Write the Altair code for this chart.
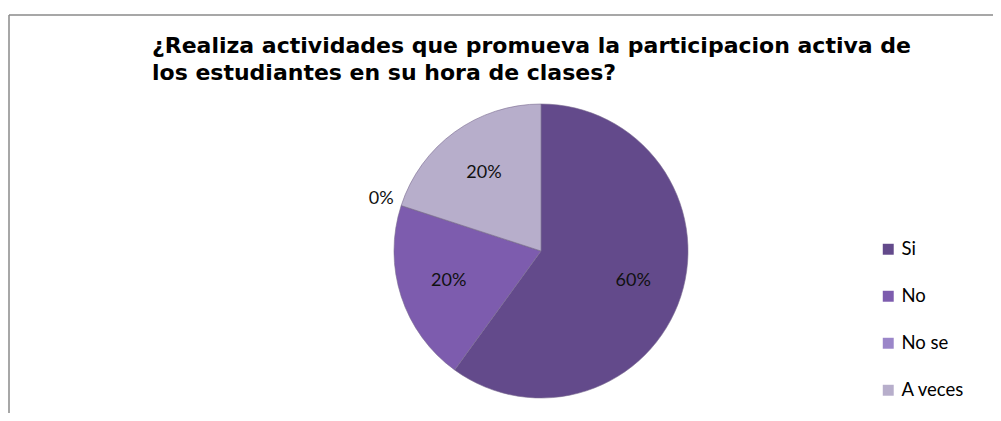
import altair as alt
import pandas as pd

categories = ["Si", "No", "No se", "A veces"]
percents = [60, 20, 0, 20]
labels = ["60%", "20%", "0%", "20%"]
colors = ["#634a8b", "#7d5cae", "#9b86c9", "#b7aecb"]
title_lines = [
    "¿Realiza actividades que promueva la participacion activa de",
    "los estudiantes en su hora de clases?",
]

df = pd.DataFrame({
    "cat": categories,
    "pct": percents,
    "label": labels,
    "ord": list(range(len(categories))),
})

CX, CY, R = 533, 243, 147

base = alt.Chart(df).encode(
    theta=alt.Theta("pct:Q", stack=True),
    order=alt.Order("ord:Q"),
)

arc = base.mark_arc(outerRadius=R, stroke="#7a6c90", strokeWidth=0.6).encode(
    x=alt.value(CX), y=alt.value(CY),
    color=alt.Color("cat:N", sort=categories,
                    scale=alt.Scale(domain=categories, range=colors),
                    legend=alt.Legend(title=None)),
)

txt = base.transform_filter("datum.pct > 0").mark_text(
    radius=97, font="Lato", fontSize=18, color="#111111"
).encode(x=alt.value(CX), y=alt.value(CY), text="label:N")

zero = base.transform_filter("datum.pct > 0 || datum.ord == 2").mark_text(
    font="Lato", fontSize=18, color="#111111"
).encode(x=alt.value(CX), y=alt.value(CY), text="label:N",
         radius=alt.value(168),
         opacity=alt.condition("datum.pct == 0", alt.value(1), alt.value(0)))

TFONT = "DejaVu Sans"
TSIZE = 22
tdf1 = pd.DataFrame({"t": [title_lines[0]]})
tdf2 = pd.DataFrame({"t": [title_lines[1]]})
t1 = alt.Chart(tdf1).mark_text(align="left", baseline="alphabetic", font=TFONT,
                               fontSize=TSIZE, fontWeight="bold", color="#000000").encode(
    text="t:N", x=alt.value(144), y=alt.value(45))
t2 = alt.Chart(tdf2).mark_text(align="left", baseline="alphabetic", font=TFONT,
                               fontSize=TSIZE, fontWeight="bold", color="#000000").encode(
    text="t:N", x=alt.value(144), y=alt.value(72))

bdf = pd.DataFrame({"k": [0]})
top = alt.Chart(bdf).mark_rule(color="#8a8a8a", strokeWidth=1.5).encode(
    x=alt.value(1), x2=alt.value(993), y=alt.value(7))
left = alt.Chart(bdf).mark_rule(color="#8a8a8a", strokeWidth=1.5).encode(
    x=alt.value(1), y=alt.value(7), y2=alt.value(420))

chart = alt.layer(arc, txt, zero, t1, t2, top, left).properties(
    width=985, height=405,
    autosize=alt.AutoSizeParams(type="none"),
    padding=0,
).configure_view(stroke=None).configure_legend(
    orient="none", legendX=871, legendY=232,
    symbolType="square", symbolSize=120, symbolStrokeWidth=0,
    labelFontSize=18.5, labelFont="Lato", labelColor="#000000",
    rowPadding=28, labelOffset=4,
)

chart.save("out.html", embed_options={"renderer": "svg", "actions": False})
